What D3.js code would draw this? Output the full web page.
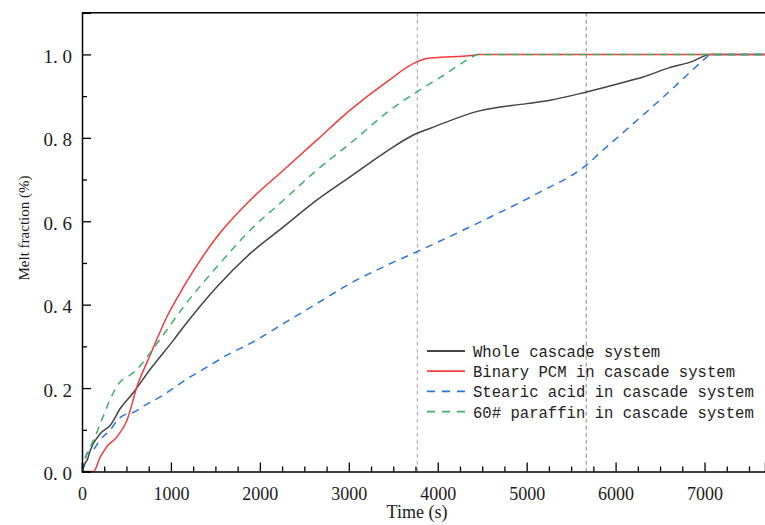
<!DOCTYPE html>
<html>
<head>
<meta charset="utf-8">
<script src="https://cdn.jsdelivr.net/npm/d3@7"></script>
<style>
  body { margin: 0; background: #fff; }
  svg { display: block; }
</style>
</head>
<body>
<script>
// x ticks (s) and y ticks (melt fraction)
var xTicks = [0, 1000, 2000, 3000, 4000, 5000, 6000, 7000];
var yTicks = [0, 0.2, 0.4, 0.6, 0.8, 1.0];
var markerTimes = [3771, 5670];

var seriesNames = ["Whole cascade system", "Binary PCM in cascade system",
                   "Stearic acid in cascade system", "60# paraffin in cascade system"];

// [time, melt fraction]
var wholeSystem = [[0,0],[37,0.02],[63,0.03],[93,0.051],[206,0.091],[318,0.111],[430,0.151],
  [580,0.19],[767,0.245],[1029,0.315],[1143,0.347],[1518,0.443],[1893,0.523],[2268,0.587],
  [2643,0.651],[3018,0.707],[3392,0.763],[3767,0.811],[3917,0.823],[4457,0.864],[5000,0.882],
  [5262,0.89],[5674,0.91],[6124,0.935],[6310,0.946],[6573,0.966],[6872,0.984],[7060,1.0],
  [7700,1.0]];
var binaryPCM = [[0,0],[130,0],[206,0.035],[281,0.06],[393,0.083],[506,0.123],[618,0.203],
  [768,0.28],[955,0.371],[1143,0.443],[1518,0.563],[1893,0.651],[2268,0.723],[2643,0.795],
  [3018,0.867],[3400,0.93],[3764,0.982],[3876,0.99],[4213,0.995],[4400,0.998],[4450,1.0],
  [7700,1.0]];
var stearicAcid = [[0,0],[18,0.012],[56,0.042],[120,0.05],[200,0.075],[318,0.1],[420,0.128],
  [500,0.138],[580,0.142],[700,0.158],[880,0.179],[1180,0.222],[1405,0.25],[1629,0.279],
  [1893,0.307],[2268,0.355],[2643,0.403],[3018,0.451],[3392,0.491],[3767,0.527],[4475,0.598],
  [5149,0.67],[5674,0.735],[5824,0.764],[6124,0.82],[6348,0.862],[6573,0.905],[7022,0.993],
  [7060,1.0],[7700,1.0]];
var paraffin60 = [[0,0],[30,0.03],[74,0.05],[169,0.095],[243,0.135],[355,0.19],[430,0.215],
  [520,0.228],[618,0.245],[768,0.285],[955,0.34],[1143,0.395],[1518,0.491],[1893,0.579],
  [2268,0.651],[2643,0.723],[3018,0.787],[3467,0.867],[3764,0.91],[4064,0.95],[4400,0.995],
  [4450,1.0],[7700,1.0]];

var allSeries = [wholeSystem, binaryPCM, stearicAcid, paraffin60];
var colors = ["#444444", "#f03c3c", "#2a76e0", "#3cb06a"];
var dashes = [null, null, "7.5,6", "7.5,6"];

var width = 765, height = 525;
var plotLeft = 82, plotTop = 12.7, plotRight = 765, plotBottom = 471.5;

var svg = d3.select("body").append("svg")
    .attr("width", width)
    .attr("height", height);

var x = d3.scaleLinear().domain([0, 7680]).range([plotLeft, plotRight]);
var y = d3.scaleLinear().domain([0, 1.1]).range([plotBottom, plotTop]);

svg.append("clipPath").attr("id", "plotclip")
  .append("rect")
    .attr("x", plotLeft).attr("y", plotTop)
    .attr("width", plotRight - plotLeft).attr("height", plotBottom - plotTop);

// vertical reference lines
svg.selectAll("line.marker")
    .data(markerTimes)
    .enter()
    .append("line")
    .attr("class", "marker")
    .attr("x1", function(d){ return x(d); })
    .attr("x2", function(d){ return x(d); })
    .attr("y1", plotTop)
    .attr("y2", plotBottom)
    .style("stroke", function(d, i){ return i == 0 ? "#b4b4b4" : "#9a9a9a"; })
    .style("stroke-width", 1.2)
    .style("stroke-dasharray", "4,3");

// curves
var line = d3.line()
    .curve(d3.curveMonotoneX)
    .x(function(d){ return x(d[0]); })
    .y(function(d){ return y(d[1]); });

svg.append("g").attr("clip-path", "url(#plotclip)")
  .selectAll("path")
    .data(allSeries)
    .enter()
    .append("path")
    .attr("d", line)
    .style("fill", "none")
    .style("stroke", function(d, i){ return colors[i]; })
    .style("stroke-width", 1.5)
    .style("stroke-dasharray", function(d, i){ return dashes[i]; });

// axes, ticks pointing inward
var xMinor = d3.range(0, 7700, 250).filter(function(v){ return v % 1000 != 0; });
var yMinor = [0.1, 0.3, 0.5, 0.7, 0.9];

var xAxis = svg.append("g").attr("transform", "translate(0," + plotBottom + ")")
    .call(d3.axisBottom(x).tickValues(xTicks).tickSize(-9).tickPadding(16)
          .tickFormat(d3.format("d")));
svg.append("g").attr("transform", "translate(0," + plotBottom + ")")
    .call(d3.axisBottom(x).tickValues(xMinor).tickSize(-5).tickFormat(""))
    .select(".domain").remove();

var yAxis = svg.append("g").attr("transform", "translate(" + plotLeft + ",0)")
    .call(d3.axisLeft(y).tickValues(yTicks).tickSize(-9).tickPadding(10)
          .tickFormat(function(d){ return d3.format(".1f")(d).replace(".", ". "); }));
svg.append("g").attr("transform", "translate(" + plotLeft + ",0)")
    .call(d3.axisLeft(y).tickValues(yMinor).tickSize(-5).tickFormat(""))
    .select(".domain").remove();

svg.selectAll(".domain").style("stroke", "#000").style("stroke-width", 1.5);
svg.selectAll(".tick line").style("stroke", "#000").style("stroke-width", 1.3);

xAxis.selectAll("text")
    .style("font-family", "'Liberation Serif', serif")
    .style("font-size", "18px")
    .style("fill", "#1a1a1a");
yAxis.selectAll("text")
    .attr("dy", "0.42em")
    .style("font-family", "'Liberation Serif', serif")
    .style("font-size", "19px")
    .style("fill", "#1a1a1a");

// top frame line
svg.append("line")
    .attr("x1", plotLeft).attr("x2", plotRight)
    .attr("y1", plotTop).attr("y2", plotTop)
    .style("stroke", "#000").style("stroke-width", 1.5);

// axis titles
svg.append("text")
    .attr("x", 417).attr("y", 518)
    .attr("text-anchor", "middle")
    .style("font-family", "'Liberation Serif', serif")
    .style("font-size", "18px")
    .style("fill", "#1a1a1a")
    .text("Time (s)");

svg.append("text")
    .attr("transform", "translate(29,228) rotate(-90)")
    .attr("text-anchor", "middle")
    .style("font-family", "'Liberation Serif', serif")
    .style("font-size", "15px")
    .style("fill", "#1a1a1a")
    .text("Melt fraction (%)");

// legend
var legend = svg.append("g").attr("transform", "translate(427,351)");
var rows = legend.selectAll("g")
    .data(seriesNames)
    .enter()
    .append("g")
    .attr("transform", function(d, i){ return "translate(0," + (i * 20.2) + ")"; });
rows.append("line")
    .attr("x1", 0).attr("x2", 38)
    .attr("y1", 0).attr("y2", 0)
    .style("stroke", function(d, i){ return colors[i]; })
    .style("stroke-width", 1.8)
    .style("stroke-dasharray", function(d, i){ return dashes[i] ? "8,7" : null; });
rows.append("text")
    .attr("x", 46).attr("y", 6)
    .style("font-family", "'Liberation Mono', monospace")
    .style("font-size", "15.6px")
    .style("fill", "#222")
    .text(function(d){ return d; });
</script>
</body>
</html>
